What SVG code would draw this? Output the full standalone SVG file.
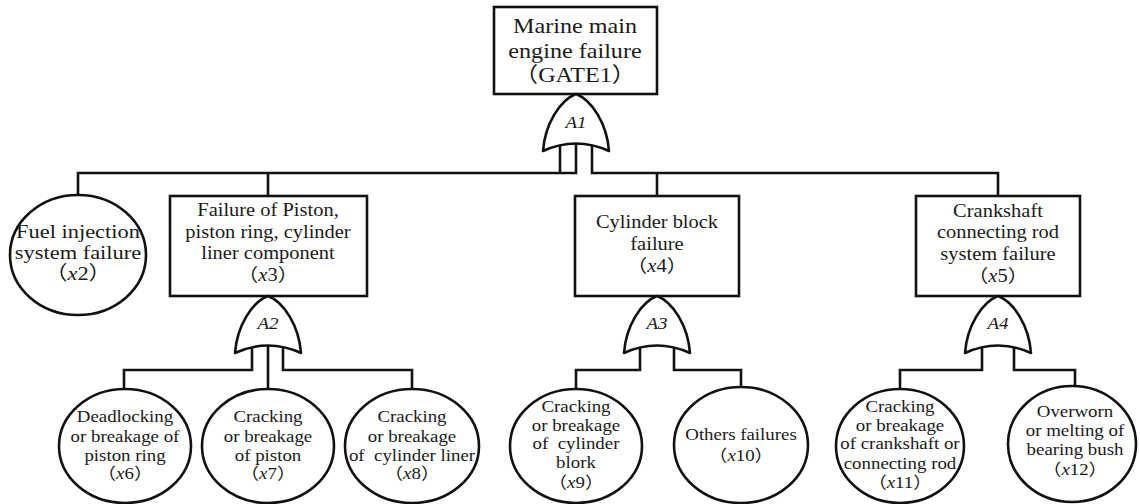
<svg xmlns="http://www.w3.org/2000/svg" width="1140" height="504" viewBox="0 0 1140 504">
<style>
.b{fill:#fff;stroke:#111;stroke-width:2.6}
.g{fill:#fff;stroke:#111;stroke-width:2.6;stroke-linejoin:round}
.c{fill:none;stroke:#111;stroke-width:2.6}
.t{font-family:"Liberation Serif","Noto Sans CJK SC",serif;text-anchor:middle;fill:#1a1a1a}
.i{font-style:italic}
.f21{font-size:21px}.f19{font-size:19.5px}.f18{font-size:17.8px}.f16{font-size:16.4px}.f15{font-size:16.5px}
</style>
<defs>
<path id="gate" d="M0,0 C16,6 31,30 33,57 Q0,42 -33,57 C-31,30 -16,6 0,0 Z"/>
</defs>
<rect width="1140" height="504" fill="#fff"/>
<g id="connectors" class="c">
<path d="M78,195 V173 H576 V140"/>
<path d="M560,140 V173"/>
<path d="M592,140 V173 H998 V196"/>
<path d="M268,173 V196"/>
<path d="M657,173 V196"/>
<path d="M124,389 V370 H252 V340"/>
<path d="M268,340 V389"/>
<path d="M283,340 V370 H412 V389"/>
<path d="M576,388 V370 H640 V340"/>
<path d="M674,340 V370 H741 V387"/>
<path d="M900,388 V370 H982 V340"/>
<path d="M1014,340 V370 H1075 V386"/>
</g>
<g id="gate1">
<rect class="b" x="494" y="7" width="163" height="87"/>
<text class="t f21" transform="translate(575,0) scale(1.15,1)"><tspan x="0" y="33">Marine main</tspan><tspan x="0" y="58">engine failure</tspan><tspan x="0" y="82">（GATE1）</tspan></text>
</g>
<g id="A1">
<use href="#gate" class="g" x="576" y="94"/>
<text class="t f15 i" transform="translate(576,0) scale(1.15,1)" y="128">A1</text>
</g>
<g id="x2">
<ellipse class="b" cx="78" cy="255" rx="68" ry="60"/>
<text class="t f19" transform="translate(78,0) scale(1.15,1)"><tspan x="0" y="238">Fuel injection</tspan><tspan x="0" y="259">system failure</tspan><tspan x="0" y="280">（<tspan class="i">x</tspan>2）</tspan></text>
</g>
<g id="x3">
<rect class="b" x="170" y="196" width="197" height="100"/>
<text class="t f18" transform="translate(268,0) scale(1.15,1)"><tspan x="0" y="216">Failure of Piston,</tspan><tspan x="0" y="238">piston ring, cylinder</tspan><tspan x="0" y="259">liner component</tspan><tspan x="0" y="281">（<tspan class="i">x</tspan>3）</tspan></text>
</g>
<g id="x4">
<rect class="b" x="575" y="196" width="164" height="100"/>
<text class="t f18" transform="translate(657,0) scale(1.15,1)"><tspan x="0" y="228">Cylinder block</tspan><tspan x="0" y="250">failure</tspan><tspan x="0" y="272">（<tspan class="i">x</tspan>4）</tspan></text>
</g>
<g id="x5">
<rect class="b" x="916" y="196" width="164" height="100"/>
<text class="t f18" transform="translate(998,0) scale(1.15,1)"><tspan x="0" y="217">Crankshaft</tspan><tspan x="0" y="238">connecting rod</tspan><tspan x="0" y="260">system failure</tspan><tspan x="0" y="282">（<tspan class="i">x</tspan>5）</tspan></text>
</g>
<g id="A2">
<use href="#gate" class="g" x="268" y="296"/>
<text class="t f15 i" transform="translate(268,0) scale(1.15,1)" y="329">A2</text>
</g>
<g id="A3">
<use href="#gate" class="g" x="657" y="296"/>
<text class="t f15 i" transform="translate(657,0) scale(1.15,1)" y="329">A3</text>
</g>
<g id="A4">
<use href="#gate" class="g" x="998" y="296"/>
<text class="t f15 i" transform="translate(998,0) scale(1.15,1)" y="329">A4</text>
</g>
<g id="x6">
<ellipse class="b" cx="125" cy="446" rx="66" ry="57"/>
<text class="t f16" transform="translate(125,0) scale(1.15,1)"><tspan x="0" y="422">Deadlocking</tspan><tspan x="0" y="442">or breakage of</tspan><tspan x="0" y="461">piston ring</tspan><tspan x="0" y="479">（<tspan class="i">x</tspan>6）</tspan></text>
</g>
<g id="x7">
<ellipse class="b" cx="268" cy="446" rx="66" ry="57"/>
<text class="t f16" transform="translate(268,0) scale(1.15,1)"><tspan x="0" y="422">Cracking</tspan><tspan x="0" y="442">or breakage</tspan><tspan x="0" y="461">of piston</tspan><tspan x="0" y="479">（<tspan class="i">x</tspan>7）</tspan></text>
</g>
<g id="x8">
<ellipse class="b" cx="412" cy="446" rx="67" ry="57"/>
<text class="t f16" transform="translate(412,0) scale(1.15,1)"><tspan x="0" y="422">Cracking</tspan><tspan x="0" y="442">or breakage</tspan><tspan x="0" y="461">of&#160; cylinder liner</tspan><tspan x="0" y="479">（<tspan class="i">x</tspan>8）</tspan></text>
</g>
<g id="x9">
<ellipse class="b" cx="576" cy="446" rx="66" ry="57"/>
<text class="t f16" transform="translate(576,0) scale(1.15,1)"><tspan x="0" y="412">Cracking</tspan><tspan x="0" y="431">or breakage</tspan><tspan x="0" y="449">of&#160; cylinder</tspan><tspan x="0" y="468">blork</tspan><tspan x="0" y="488">（<tspan class="i">x</tspan>9）</tspan></text>
</g>
<g id="x10">
<ellipse class="b" cx="741" cy="445" rx="67" ry="58"/>
<text class="t f16" transform="translate(741,0) scale(1.15,1)"><tspan x="0" y="440">Others failures</tspan><tspan x="0" y="461">（<tspan class="i">x</tspan>10）</tspan></text>
</g>
<g id="x11">
<ellipse class="b" cx="900" cy="446" rx="64" ry="57"/>
<text class="t f16" transform="translate(900,0) scale(1.15,1)"><tspan x="0" y="412">Cracking</tspan><tspan x="0" y="431">or breakage</tspan><tspan x="0" y="449">of crankshaft or</tspan><tspan x="0" y="469">connecting rod</tspan><tspan x="0" y="488">（<tspan class="i">x</tspan>11）</tspan></text>
</g>
<g id="x12">
<ellipse class="b" cx="1072" cy="444" rx="64" ry="58"/>
<text class="t f16" transform="translate(1075,0) scale(1.15,1)"><tspan x="0" y="417">Overworn</tspan><tspan x="0" y="436">or melting of</tspan><tspan x="0" y="455">bearing bush</tspan><tspan x="0" y="475">（<tspan class="i">x</tspan>12）</tspan></text>
</g>
</svg>
